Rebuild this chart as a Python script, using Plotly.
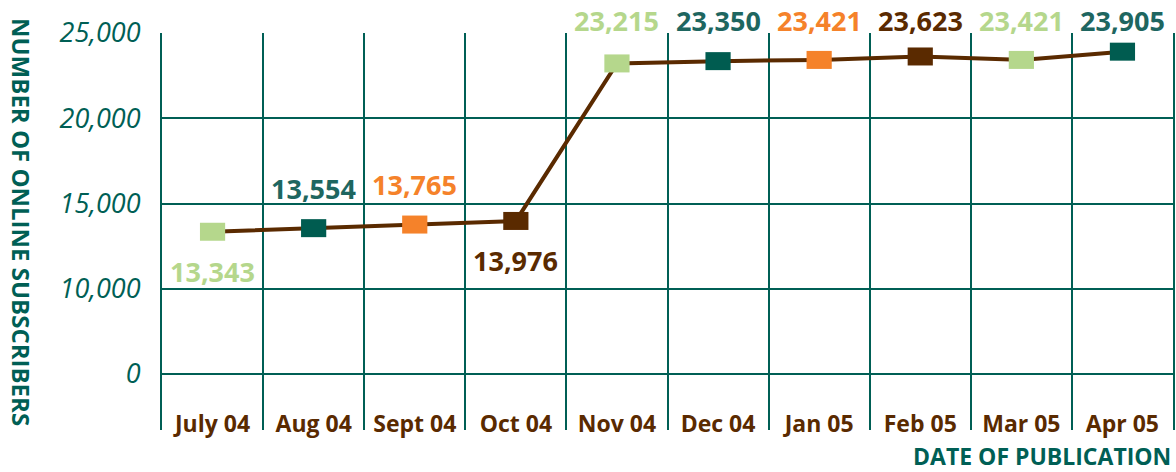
import plotly.graph_objects as go

# ---- data ----
months = ["July 04", "Aug 04", "Sept 04", "Oct 04", "Nov 04",
          "Dec 04", "Jan 05", "Feb 05", "Mar 05", "Apr 05"]
subscribers = [13343, 13554, 13765, 13976, 23215,
               23350, 23421, 23623, 23421, 23905]
point_colors = ["#B5D78C", "#005C50", "#F5822A", "#5A2A00", "#B5D78C",
                "#005C50", "#F5822A", "#5A2A00", "#B5D78C", "#005C50"]
label_colors = ["#B5D78C", "#1E6660", "#F5822A", "#5A2A00", "#B5D78C",
                "#1E6660", "#F5822A", "#5A2A00", "#B5D78C", "#1E6660"]
label_place = ["below", "above", "above", "below", "top",
               "top", "top", "top", "top", "top"]
y_tick_values = [5000, 10000, 15000, 20000, 25000]
y_tick_labels = ["0", "10,000", "15,000", "20,000", "25,000"]

TEAL = "#005F55"
BROWN = "#5A2A00"
FONT = "Open Sans"

fig = go.Figure()
fig.add_trace(go.Scatter(
    x=months, y=subscribers, mode="lines",
    line=dict(color=BROWN, width=4),
    hoverinfo="skip", showlegend=False,
))
# rectangular markers (thick horizontal strokes)
fig.add_trace(go.Scatter(
    x=months, y=subscribers, mode="markers",
    marker=dict(symbol="line-ew", size=18,
                line=dict(color=point_colors, width=18)),
    showlegend=False,
))

annotations = []
for m, v, c, p in zip(months, subscribers, label_colors, label_place):
    txt = f"{v:,}"
    f = dict(family=FONT, size=27, color=c, weight=700)
    if p == "top":
        annotations.append(dict(x=m, y=1, xref="x", yref="paper", text=txt,
                                showarrow=False, yanchor="middle", yshift=13, font=f))
    else:
        annotations.append(dict(x=m, y=v, xref="x", yref="y", text=txt,
                                showarrow=False, yanchor="middle",
                                yshift=40 if p == "above" else -40, font=f))

annotations.append(dict(text="NUMBER OF ONLINE SUBSCRIBERS", textangle=90,
                        x=0, xref="paper", xshift=-141, xanchor="center",
                        y=0.524, yref="paper", yanchor="middle", showarrow=False,
                        font=dict(family=FONT, size=24, color=TEAL, weight=700)))
annotations.append(dict(text="DATE OF PUBLICATION",
                        x=1, xref="paper", xanchor="right",
                        y=0, yref="paper", yanchor="middle", yshift=-26, showarrow=False,
                        font=dict(family=FONT, size=23, color=TEAL, weight=700)))

fig.update_layout(
    width=1176, height=472,
    margin=dict(l=162, r=1, t=33, b=42),
    paper_bgcolor="white", plot_bgcolor="white",
    annotations=annotations,
    xaxis=dict(type="category", categoryorder="array", categoryarray=months,
               range=[-0.5, 9.5], tickson="boundaries", ticks="",
               showgrid=True, gridcolor=TEAL, gridwidth=2,
               ticklabelposition="inside", ticklabelstandoff=-10,
               showline=False, zeroline=False,
               tickfont=dict(family=FONT, size=23, color=BROWN, weight=700)),
    yaxis=dict(range=[1715, 25000], tickvals=y_tick_values, ticktext=y_tick_labels,
               showgrid=True, gridcolor=TEAL, gridwidth=2, ticks="",
               showline=True, mirror=True, linecolor=TEAL, linewidth=2,
               zeroline=False, ticklabelstandoff=14,
               tickfont=dict(family=FONT, size=27, color=TEAL, style="italic")),
)

fig.write_html("out.html", config={"displayModeBar": False},
               post_script="document.body.style.margin='0';document.body.style.overflow='hidden';")
